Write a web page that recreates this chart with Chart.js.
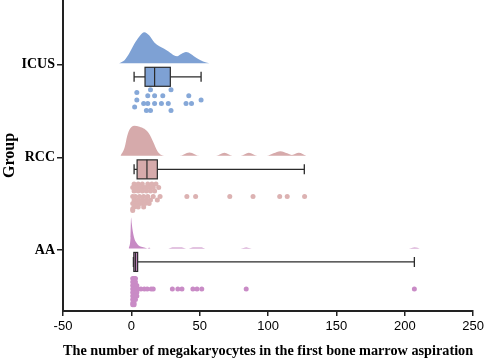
<!DOCTYPE html>
<html>
<head>
<meta charset="utf-8">
<script src="https://cdn.jsdelivr.net/npm/chart.js@4/dist/chart.umd.min.js"></script>
<style>
  body { margin: 0; background: #fff; }
  canvas { display: block; }
</style>
</head>
<body>
<canvas id="myChartRain" width="487" height="361"></canvas>
<script>
// groups from bottom to top
let groups = ['AA', 'RCC', 'ICUS'];

// box statistics [min, q1, median, q3, max]
let boxAA = [1.5, 1.8, 3, 4.6, 207];
let boxRCC = [2, 4.2, 11.4, 19, 126.5];
let boxICUS = [2, 10, 17, 28.5, 51];

// density curves (x value, relative height 0..1)
let densICUSx = [-9, -5, -1.5, 2, 6, 9.5, 13, 17, 20.5, 24, 27.5, 31, 33.5, 36.5, 40, 43.5, 48, 52.5, 57];
let densICUSh = [0, 0.1, 0.32, 0.61, 0.87, 1, 0.9, 0.66, 0.55, 0.47, 0.37, 0.26, 0.23, 0.3, 0.36, 0.3, 0.16, 0.06, 0];

let densRCCx = [-8, -5, -3, -1, 2, 6, 9.5, 13, 16, 19, 22, 26, 35, 42.5, 50, 62, 68, 74, 80, 86, 92, 99, 104, 109, 114, 117.5, 122.5, 128];
let densRCCh = [0, 0.26, 0.65, 0.87, 0.97, 0.94, 0.87, 0.71, 0.45, 0.16, 0.03, 0, 0, 0.11, 0, 0, 0.1, 0, 0, 0.1, 0, 0, 0.08, 0.15, 0.08, 0.03, 0.1, 0];

let densAAx = [-2, -0.6, -0.2, 0.3, 0.7, 2.2, 3.6, 5.1, 7.3, 10, 12, 13, 14, 27, 30, 34, 37, 40, 42, 45, 48, 51.5, 54, 80, 84, 88, 203, 207, 211];
let densAAh = [0, 0.35, 1, 0.8, 0.65, 0.32, 0.19, 0.1, 0.05, 0.02, 0, 0.03, 0, 0, 0.03, 0.03, 0.03, 0, 0, 0.03, 0.03, 0.03, 0, 0, 0.03, 0, 0, 0.03, 0];

// raw points: values and the jitter lane each sits in
let ptsICUS = [14, 29, 4, 12, 17, 23, 42, 4, 51, 9, 12, 17, 22, 27, 40, 44, 2.4, 11, 14, 29];
let laneICUS = [0, 0, 0.8, 1.7, 1.7, 1.7, 1.7, 2.9, 2.9, 3.9, 3.9, 3.9, 3.9, 3.9, 3.9, 3.9, 4.9, 5.9, 5.9, 5.9];

let ptsRCC = [2, 5, 8, 12, 15, 18,
              1, 4, 7, 10, 13, 16, 20,
              2, 5, 8, 11, 14, 17,
              1, 3, 6, 9, 12, 16, 21, 40.6, 47, 72, 89, 108.5, 114, 126.7,
              2, 5, 8, 11, 14, 19,
              1, 4, 7, 10, 13,
              2, 5, 9,
              1, 1];
let laneRCC = [0.5, 0.5, 0.5, 0.5, 0.5, 0.5,
               1.5, 1.5, 1.5, 1.5, 1.5, 1.5, 1.5,
               2.5, 2.5, 2.5, 2.5, 2.5, 2.5,
               4, 4, 4, 4, 4, 4, 4, 4, 4, 4, 4, 4, 4, 4,
               5, 5, 5, 5, 5, 5,
               6, 6, 6, 6, 6,
               7, 7, 7,
               8, 7.5];

let ptsAA = [1, 2, 3,
             1, 2, 3,
             1, 2, 3, 4,
             1, 2, 3, 4, 5, 7, 9.5, 11.6, 14.5, 16, 30, 34, 37, 45, 48, 51.5, 84, 207,
             1, 2, 3, 4,
             1, 2, 3, 4,
             1, 2, 3,
             1, 2,
             1, 2];
let laneAA = [1, 1, 1,
              2, 2, 2,
              3, 3, 3, 3,
              4, 4, 4, 4, 4, 4, 4, 4, 4, 4, 4, 4, 4, 4, 4, 4, 4, 4,
              5, 5, 5, 5,
              6, 6, 6, 6,
              7, 7, 7,
              8, 8,
              8.5, 8.5];

let colAA = '#c78ac4';
let colRCC = '#d6aaab';
let colICUS = '#7ea1d4';

let pxPerUnit = 92.5;           // vertical pixels for one group step
let densScale = 31 / pxPerUnit; // tallest density height
let densLift = 1.5 / pxPerUnit;
let laneTop = 25 / pxPerUnit;
let laneStep = 3.5 / pxPerUnit;

function densityData(xs, hs, pos){
    let out = [];
    for(let i in xs){
        out.push({x: xs[i], y: pos + densLift + hs[i] * densScale});
    }
    return out;
}

function pointData(vals, lanes, pos){
    let out = [];
    for(let i in vals){
        out.push({x: vals[i], y: pos - laneTop - lanes[i] * laneStep});
    }
    return out;
}

function densitySet(xs, hs, pos, col){
    return {
        type: 'scatter', showLine: true,
        data: densityData(xs, hs, pos),
        borderWidth: 0, borderColor: col, backgroundColor: col,
        pointRadius: 0, cubicInterpolationMode: 'monotone',
        fill: {value: pos + densLift}
    };
}

function pointSet(vals, lanes, pos, col){
    return {
        type: 'scatter',
        data: pointData(vals, lanes, pos),
        pointRadius: 2.5, borderWidth: 0,
        backgroundColor: col, pointBackgroundColor: col
    };
}

let boxes = [
    {stats: boxAA, pos: 1, col: colAA},
    {stats: boxRCC, pos: 2, col: colRCC},
    {stats: boxICUS, pos: 3, col: colICUS}
];

let boxPlugin = {
    id: 'boxes',
    afterDatasetsDraw(chart){
        let ctx = chart.ctx;
        let xs = chart.scales.x, ys = chart.scales.y;
        boxes.forEach(function(b){
            let s = b.stats;
            let yc = ys.getPixelForValue(b.pos - 12 / pxPerUnit);
            let half = 9.5;
            let cap = 5;
            let xMin = xs.getPixelForValue(s[0]);
            let xQ1 = xs.getPixelForValue(s[1]);
            let xMed = xs.getPixelForValue(s[2]);
            let xQ3 = xs.getPixelForValue(s[3]);
            let xMax = xs.getPixelForValue(s[4]);
            ctx.save();
            ctx.strokeStyle = '#2b2b2b';
            ctx.lineWidth = 1.3;
            ctx.beginPath();
            ctx.moveTo(xMin, yc); ctx.lineTo(xQ1, yc);
            ctx.moveTo(xQ3, yc); ctx.lineTo(xMax, yc);
            ctx.moveTo(xMin, yc - cap); ctx.lineTo(xMin, yc + cap);
            ctx.moveTo(xMax, yc - cap); ctx.lineTo(xMax, yc + cap);
            ctx.stroke();
            ctx.fillStyle = b.col;
            ctx.fillRect(xQ1, yc - half, xQ3 - xQ1, half * 2);
            ctx.lineWidth = 1.2;
            ctx.strokeRect(xQ1, yc - half, xQ3 - xQ1, half * 2);
            ctx.beginPath();
            ctx.moveTo(xMed, yc - half); ctx.lineTo(xMed, yc + half);
            ctx.stroke();
            ctx.restore();
        });
    }
};

let serif = "'Liberation Serif', 'Times New Roman', serif";

let canvas = document.getElementById('myChartRain');
let myChartRain = new Chart(canvas, {
    type: 'scatter',
    data: {
        datasets: [
            densitySet(densICUSx, densICUSh, 3, colICUS),
            densitySet(densRCCx, densRCCh, 2, colRCC),
            densitySet(densAAx, densAAh, 1, colAA),
            pointSet(ptsICUS, laneICUS, 3, '#86a8d8'),
            pointSet(ptsRCC, laneRCC, 2, '#dcb2b2'),
            pointSet(ptsAA, laneAA, 1, '#c98bc6')
        ]
    },
    options: {
        responsive: false,
        animation: false,
        layout: {autoPadding: false, padding: {top: 0, right: 10, left: 0, bottom: 0}},
        plugins: {legend: {display: false}, tooltip: {enabled: false}},
        scales: {
            x: {
                type: 'linear', min: -50, max: 250,
                ticks: {stepSize: 50, color: '#000', padding: 3,
                        font: {family: "'Liberation Sans', Arial, sans-serif", size: 13}},
                grid: {drawOnChartArea: false, drawTicks: true, tickLength: 5, color: '#222', lineWidth: 1.5},
                border: {display: true, color: '#222', width: 2},
                title: {display: true, color: '#000', font: {family: serif, size: 14.4, weight: 'bold'},
                        padding: {top: 0, bottom: 1},
                        text: 'The number of megakaryocytes in the first bone marrow aspiration'},
                afterFit: function(s){ s.height = 50; }
            },
            y: {
                type: 'linear', min: 0.34, max: 3.70,
                afterBuildTicks: function(s){ s.ticks = [1, 2, 3].map(v => ({value: v})); },
                ticks: {color: '#000', padding: 2,
                        font: {family: serif, size: 14, weight: 'bold'},
                        callback: function(v){ return groups[v - 1]; }},
                grid: {drawOnChartArea: false, drawTicks: true, tickLength: 6, color: '#222', lineWidth: 1.5},
                border: {display: true, color: '#222', width: 2},
                title: {display: true, text: 'Group', color: '#000', font: {family: serif, size: 16, weight: 'bold'},
                        padding: {top: 0, bottom: 0}},
                afterFit: function(s){ s.width = 63; s.paddingTop = 0; s.paddingBottom = 0; }
            }
        }
    },
    plugins: [boxPlugin]
});
</script>
</body>
</html>
